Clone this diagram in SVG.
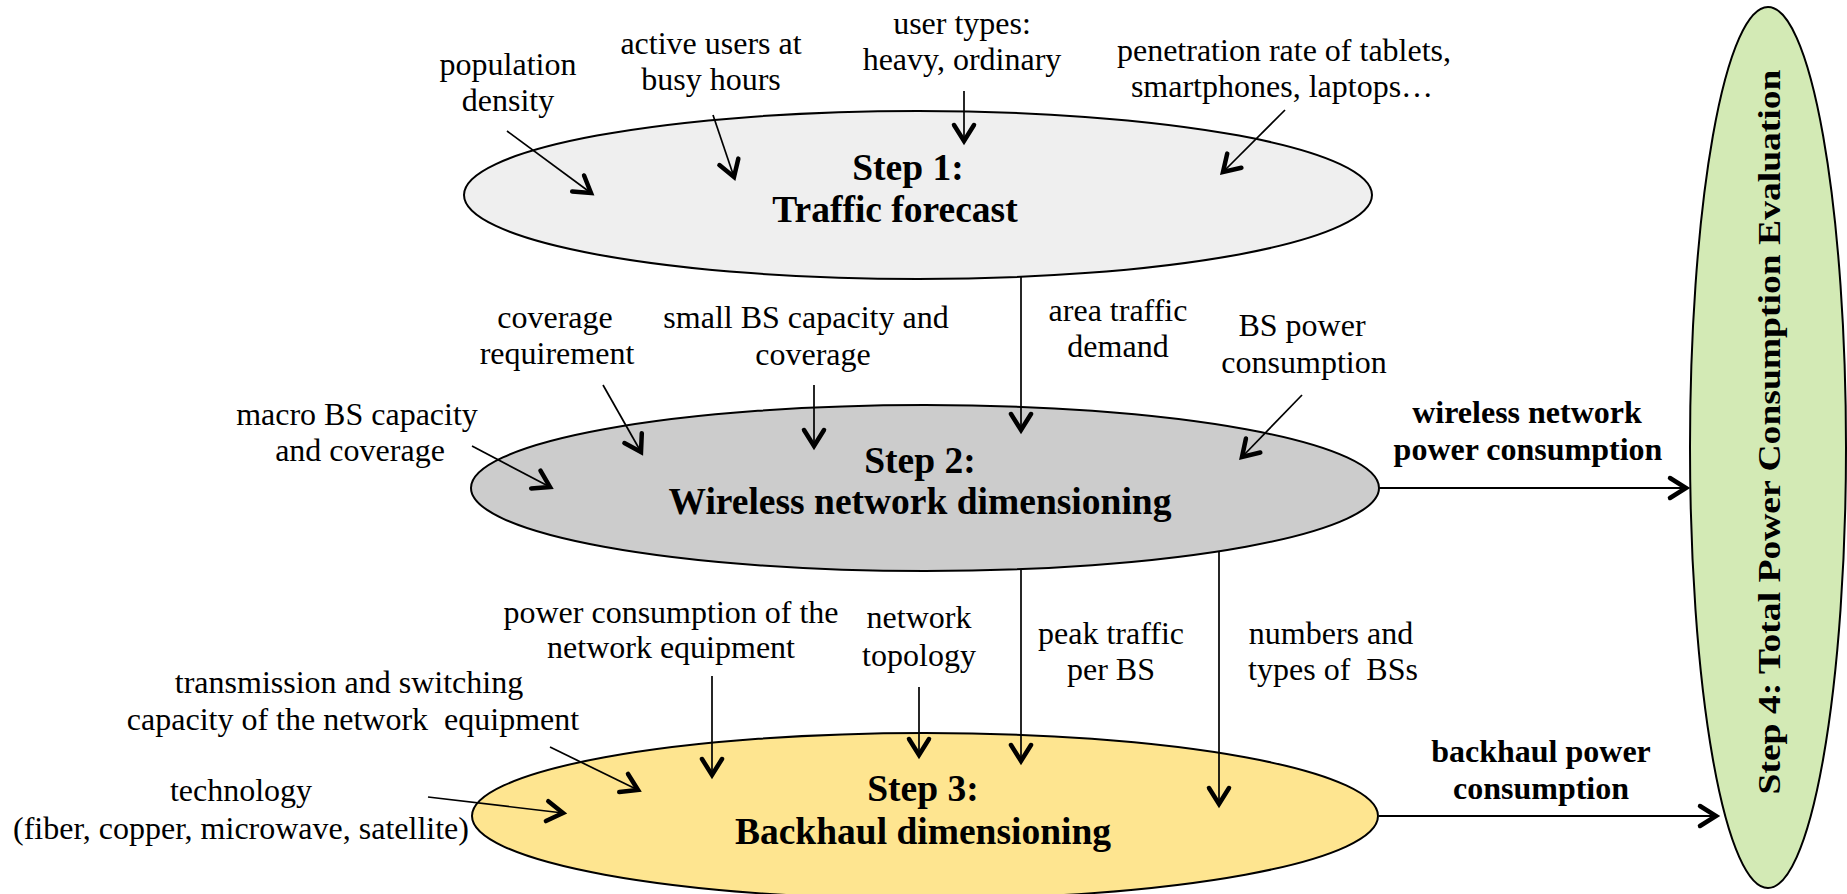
<svg xmlns="http://www.w3.org/2000/svg" width="1847" height="894" viewBox="0 0 1847 894">
<style>
.t{font-family:"Liberation Serif","Times New Roman",serif;font-size:32px;fill:#000;text-anchor:middle}
.b{font-family:"Liberation Serif","Times New Roman",serif;font-size:32px;font-weight:bold;fill:#000;text-anchor:middle}
.s{font-family:"Liberation Serif","Times New Roman",serif;font-size:37.5px;font-weight:bold;fill:#000;text-anchor:middle}
.e{stroke:#000;stroke-width:2}
.c line{stroke:#000;stroke-width:1.7;fill:none;marker-end:url(#ah)}
.c line.w{stroke-width:2.2}
</style>
<defs>
<marker id="ah" markerUnits="userSpaceOnUse" viewBox="-24 -16 30 32" markerWidth="30" markerHeight="32" refX="0" refY="0" orient="auto" overflow="visible">
<path d="M-16,-10 L0,0 L-16,10" fill="none" stroke="#000" stroke-width="4.5" stroke-linecap="round" stroke-linejoin="miter"/>
</marker>
</defs>
<rect width="1847" height="894" fill="#fff"/>
<g id="step1">
<ellipse class="e" cx="918" cy="195" rx="454" ry="84" fill="#efefef"/>
<text class="s" x="908" y="180">Step 1:</text>
<text class="s" x="895" y="222">Traffic forecast</text>
</g>
<g id="step2">
<ellipse class="e" cx="925" cy="488" rx="454" ry="83" fill="#cccccc"/>
<text class="s" x="920" y="473">Step 2:</text>
<text class="s" x="920" y="514">Wireless network dimensioning</text>
</g>
<g id="step3">
<ellipse class="e" cx="925" cy="816" rx="453" ry="83" fill="#fee590"/>
<text class="s" x="923" y="801">Step 3:</text>
<text class="s" x="923" y="844">Backhaul dimensioning</text>
</g>
<g id="step4">
<ellipse class="e" cx="1768" cy="447.5" rx="78" ry="440.5" fill="#d3eab5"/>
<text class="b" transform="translate(1780,432) rotate(-90)" x="0" y="0" font-size="33" textLength="725" lengthAdjust="spacingAndGlyphs">Step 4: Total Power Consumption Evaluation</text>
</g>
<g id="labels">
<text class="t" x="508" y="75">population</text>
<text class="t" x="508" y="111">density</text>
<text class="t" x="711" y="54">active users at</text>
<text class="t" x="711" y="90">busy hours</text>
<text class="t" x="962" y="34">user types:</text>
<text class="t" x="962" y="70">heavy, ordinary</text>
<text class="t" x="1284" y="61">penetration rate of tablets,</text>
<text class="t" x="1282" y="97">smartphones, laptops…</text>
<text class="t" x="555" y="328">coverage</text>
<text class="t" x="557" y="364">requirement</text>
<text class="t" x="806" y="328">small BS capacity and</text>
<text class="t" x="813" y="365">coverage</text>
<text class="t" x="1118" y="321">area traffic</text>
<text class="t" x="1118" y="357">demand</text>
<text class="t" x="1302" y="336">BS power</text>
<text class="t" x="1304" y="373">consumption</text>
<text class="t" x="357" y="425">macro BS capacity</text>
<text class="t" x="360" y="461">and coverage</text>
<text class="b" x="1527" y="423">wireless network</text>
<text class="b" x="1528" y="460">power consumption</text>
<text class="t" x="671" y="623">power consumption of the</text>
<text class="t" x="671" y="658">network equipment</text>
<text class="t" x="919" y="628">network</text>
<text class="t" x="919" y="666">topology</text>
<text class="t" x="1111" y="644">peak traffic</text>
<text class="t" x="1111" y="680">per BS</text>
<text class="t" x="1331" y="644">numbers and</text>
<text class="t" x="1333" y="680" xml:space="preserve">types of  BSs</text>
<text class="t" x="349" y="693">transmission and switching</text>
<text class="t" x="353" y="730" xml:space="preserve">capacity of the network  equipment</text>
<text class="t" x="241" y="801">technology</text>
<text class="t" x="241" y="839">(fiber, copper, microwave, satellite)</text>
<text class="b" x="1541" y="762">backhaul power</text>
<text class="b" x="1541" y="799">consumption</text>
</g>
<g id="connectors" class="c">
<line x1="507" y1="131" x2="591" y2="193"/>
<line x1="713" y1="115" x2="734" y2="177"/>
<line x1="964" y1="91" x2="964" y2="141"/>
<line x1="1285" y1="110" x2="1223" y2="172"/>
<line x1="1021" y1="277" x2="1021" y2="430"/>
<line x1="472" y1="446" x2="550" y2="487"/>
<line x1="603" y1="385" x2="641" y2="452"/>
<line x1="814" y1="385" x2="814" y2="446"/>
<line x1="1302" y1="395" x2="1242" y2="457"/>
<line class="w" x1="1379" y1="488" x2="1686" y2="488"/>
<line x1="1021" y1="569" x2="1021" y2="761"/>
<line x1="1219" y1="551" x2="1219" y2="804"/>
<line x1="919" y1="687" x2="919" y2="755"/>
<line x1="712" y1="676" x2="712" y2="775"/>
<line x1="550" y1="747" x2="638" y2="790"/>
<line x1="428" y1="797" x2="563" y2="813"/>
<line class="w" x1="1379" y1="816" x2="1716" y2="816"/>
</g>
</svg>
